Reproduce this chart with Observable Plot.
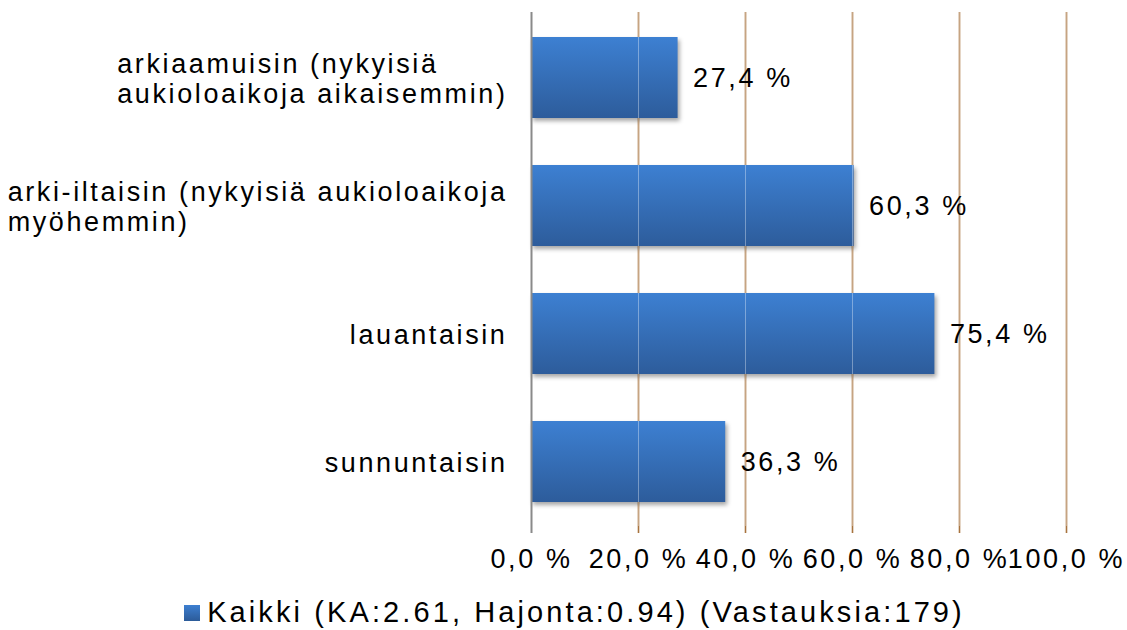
<!DOCTYPE html>
<html>
<head>
<meta charset="utf-8">
<script src="https://cdn.jsdelivr.net/npm/d3@7"></script>
<script src="https://cdn.jsdelivr.net/npm/@observablehq/plot@0.6"></script>
<style>
  html, body { margin: 0; padding: 0; background: #fff; }
  #wrap { position: relative; width: 1127px; height: 630px; }
  #chart svg { color: #000; }
  #chart svg text { font-family: "Liberation Sans", Arial, sans-serif; font-size: 27px; letter-spacing: 2.6px; fill: #000; }
  #chart g[aria-label="bar"] rect { filter: drop-shadow(2px 3px 2px rgba(0,0,0,0.35)); }
  #legend { position: absolute; top: 596px; left: 0; width: 1127px; padding-left: 22px; box-sizing: border-box; display: flex; justify-content: center; align-items: center;
    font-family: "Liberation Sans", Arial, sans-serif; font-size: 29px; letter-spacing: 3.1px; color: #000; white-space: nowrap; }
  #legend .sw { width: 16px; height: 16px; margin-right: 7px; background: linear-gradient(#3d7fd1, #2c5b99); }
</style>
</head>
<body>
<div id="wrap">
  <div id="chart"></div>
  <div id="legend"><span class="sw"></span><span id="legtext"></span></div>
</div>
<script>
const categories = [
  "arkiaamuisin (nykyisiä aukioloaikoja aikaisemmin)",
  "arki-iltaisin (nykyisiä aukioloaikoja myöhemmin)",
  "lauantaisin",
  "sunnuntaisin"
];
const categoryLines = [
  ["arkiaamuisin (nykyisiä", "aukioloaikoja aikaisemmin)"],
  ["arki-iltaisin (nykyisiä aukioloaikoja", "myöhemmin)"],
  ["lauantaisin"],
  ["sunnuntaisin"]
];
const values = [27.4, 60.3, 75.4, 36.3];
const xTicks = [0, 20, 40, 60, 80, 100];
const seriesName = "Kaikki (KA:2.61, Hajonta:0.94) (Vastauksia:179)";

const data = categories.map((c, i) => ({cat: c, value: values[i], lines: categoryLines[i].join("\n"), x0: 0}));
const fmt = d => d.toFixed(1).replace(".", ",") + " %";

// measure label widths with same styling
function measure(text) {
  const s = d3.select("body").append("svg").attr("width", 10).attr("height", 10);
  const t = s.append("text")
    .style("font-family", '"Liberation Sans", Arial, sans-serif')
    .style("font-size", "27px").style("letter-spacing", "2.6px").text(text);
  const w = t.node().getComputedTextLength();
  s.remove();
  return w;
}
const gap = 24;

const labelMarks = data.map((d, i) => {
  const w = d3.max(categoryLines[i], measure);
  return Plot.text([d], {
    x: "x0", y: "cat", text: "lines",
    textAnchor: "start", lineAnchor: "middle", lineHeight: 1.11,
    dx: -(w + gap)
  });
});

const chart = Plot.plot({
  width: 1127,
  height: 585,
  marginLeft: 531,
  marginRight: 61,
  marginTop: 12,
  marginBottom: 59,
  style: {background: "#fff", color: "#000"},
  x: {domain: [0, 100], axis: null},
  y: {domain: categories, paddingInner: 0.37, paddingOuter: 0.185, axis: null},
  marks: [
    Plot.ruleX(xTicks.filter(t => t > 0), {stroke: "#a8743f", strokeWidth: 1.6, insetBottom: -7}),
    Plot.barX(data, {x: "value", y: "cat", fill: "#3570b8"}),
    Plot.ruleX(xTicks.filter(t => t > 0), {stroke: "#ffffff", strokeOpacity: 0.35, strokeWidth: 1}),
    Plot.ruleX([0], {stroke: "#8a8a8a", strokeWidth: 2, insetBottom: -7}),
    Plot.axisX({ticks: xTicks, tickFormat: fmt, tickSize: 0, tickPadding: 22, anchor: "bottom"}),
    Plot.text(data, {x: "value", y: "cat", text: d => fmt(d.value), textAnchor: "start", dx: 15}),
    ...labelMarks
  ]
});

// gradient defs for bars
const svg = d3.select(chart);
const defs = svg.insert("defs", ":first-child");
const g = defs.append("linearGradient").attr("id", "barGrad").attr("x1", 0).attr("y1", 0).attr("x2", 0).attr("y2", 1);
g.append("stop").attr("offset", "0%").attr("stop-color", "#3d80d2");
g.append("stop").attr("offset", "100%").attr("stop-color", "#2d5c9b");
svg.selectAll('g[aria-label="bar"] rect').attr("fill", "url(#barGrad)");

document.getElementById("chart").appendChild(chart);
document.getElementById("legtext").textContent = seriesName;
</script>
</body>
</html>
